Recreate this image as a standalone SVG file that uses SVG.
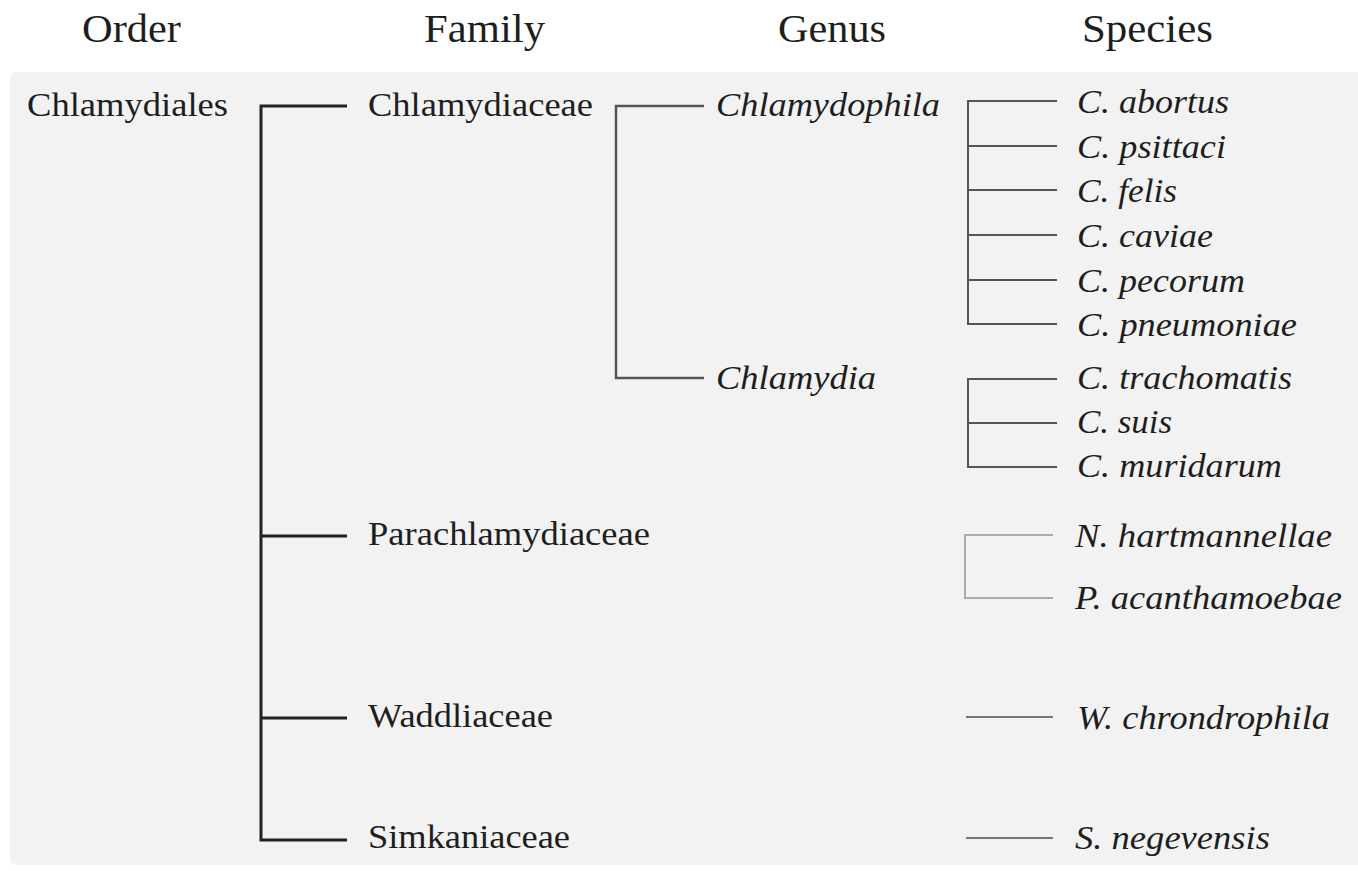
<svg xmlns="http://www.w3.org/2000/svg" width="1358" height="871" viewBox="0 0 1358 871">
<style>
text{font-family:"Liberation Serif","Times New Roman",serif;fill:#1e1e1e;}
.h{font-size:41px;}
.n{font-size:34px;}
.i{font-size:34px;font-style:italic;}
.c1{stroke:#222;stroke-width:3;fill:none;}
.c2{stroke:#555;stroke-width:2.5;fill:none;}
.c3{stroke:#555;stroke-width:2;fill:none;}
.c4{stroke:#aaa;stroke-width:2;fill:none;}
.c5{stroke:#777;stroke-width:2;fill:none;}
</style>
<rect x="0" y="0" width="1358" height="871" fill="#ffffff"/>
<rect x="10" y="72" width="1360" height="793" rx="6" fill="#f2f2f2"/>
<g id="headers">
<text class="h" x="82" y="42" textLength="99" lengthAdjust="spacingAndGlyphs">Order</text>
<text class="h" x="424" y="42" textLength="121" lengthAdjust="spacingAndGlyphs">Family</text>
<text class="h" x="778" y="42" textLength="108" lengthAdjust="spacingAndGlyphs">Genus</text>
<text class="h" x="1082" y="42" textLength="131" lengthAdjust="spacingAndGlyphs">Species</text>
</g>
<g id="connectors">
<path class="c1" d="M347,106 H261 V840 H347 M261,536 H347 M261,718 H347"/>
<path class="c2" d="M704,106 H616 V378 H704"/>
<path class="c3" d="M1057,101 H968 V324 H1057 M968,146 H1057 M968,190 H1057 M968,235 H1057 M968,280 H1057"/>
<path class="c3" d="M1057,379 H968 V467 H1057 M968,423 H1057"/>
<path class="c4" d="M1053,535 H965 V598 H1053"/>
<path class="c5" d="M966,717 H1053 M966,838 H1053"/>
</g>
<g id="order"><text class="n" x="27" y="116" textLength="201" lengthAdjust="spacingAndGlyphs">Chlamydiales</text></g>
<g id="fam-chlamydiaceae"><text class="n" x="368" y="116" textLength="225" lengthAdjust="spacingAndGlyphs">Chlamydiaceae</text></g>
<g id="fam-parachlamydiaceae"><text class="n" x="368" y="545" textLength="282" lengthAdjust="spacingAndGlyphs">Parachlamydiaceae</text></g>
<g id="fam-waddliaceae"><text class="n" x="368" y="727" textLength="185" lengthAdjust="spacingAndGlyphs">Waddliaceae</text></g>
<g id="fam-simkaniaceae"><text class="n" x="368" y="848" textLength="202" lengthAdjust="spacingAndGlyphs">Simkaniaceae</text></g>
<g id="gen-chlamydophila"><text class="i" x="716" y="116" textLength="224" lengthAdjust="spacingAndGlyphs">Chlamydophila</text></g>
<g id="gen-chlamydia"><text class="i" x="716" y="389" textLength="160" lengthAdjust="spacingAndGlyphs">Chlamydia</text></g>
<g id="sp-abortus"><text class="i" x="1077" y="113" textLength="152" lengthAdjust="spacingAndGlyphs">C. abortus</text></g>
<g id="sp-psittaci"><text class="i" x="1077" y="158" textLength="149" lengthAdjust="spacingAndGlyphs">C. psittaci</text></g>
<g id="sp-felis"><text class="i" x="1077" y="202" textLength="100" lengthAdjust="spacingAndGlyphs">C. felis</text></g>
<g id="sp-caviae"><text class="i" x="1077" y="247" textLength="136" lengthAdjust="spacingAndGlyphs">C. caviae</text></g>
<g id="sp-pecorum"><text class="i" x="1077" y="292" textLength="168" lengthAdjust="spacingAndGlyphs">C. pecorum</text></g>
<g id="sp-pneumoniae"><text class="i" x="1077" y="336" textLength="220" lengthAdjust="spacingAndGlyphs">C. pneumoniae</text></g>
<g id="sp-trachomatis"><text class="i" x="1077" y="389" textLength="215" lengthAdjust="spacingAndGlyphs">C. trachomatis</text></g>
<g id="sp-suis"><text class="i" x="1077" y="433" textLength="95" lengthAdjust="spacingAndGlyphs">C. suis</text></g>
<g id="sp-muridarum"><text class="i" x="1077" y="477" textLength="205" lengthAdjust="spacingAndGlyphs">C. muridarum</text></g>
<g id="sp-hartmannellae"><text class="i" x="1075" y="547" textLength="257" lengthAdjust="spacingAndGlyphs">N. hartmannellae</text></g>
<g id="sp-acanthamoebae"><text class="i" x="1075" y="609" textLength="267" lengthAdjust="spacingAndGlyphs">P. acanthamoebae</text></g>
<g id="sp-chrondrophila"><text class="i" x="1077" y="729" textLength="253" lengthAdjust="spacingAndGlyphs">W. chrondrophila</text></g>
<g id="sp-negevensis"><text class="i" x="1075" y="849" textLength="195" lengthAdjust="spacingAndGlyphs">S. negevensis</text></g>
</svg>
